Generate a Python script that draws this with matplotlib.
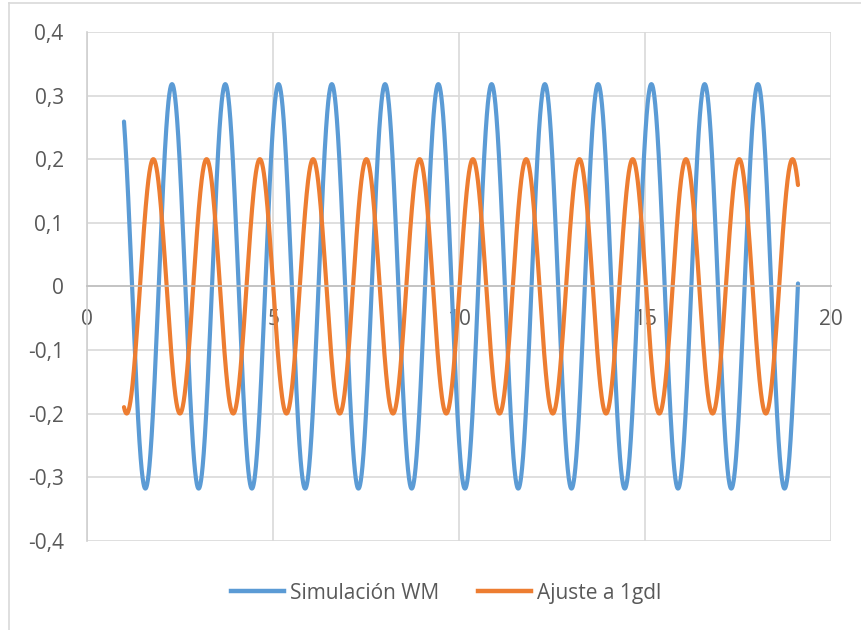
import numpy as np
import matplotlib
matplotlib.use("Agg")
import matplotlib.pyplot as plt
from matplotlib.lines import Line2D

# ---- data (sinusoid parameters) ----
series_names = ["Simulación WM", "Ajuste a 1gdl"]
amplitudes = [0.318, 0.200]          # peak values
periods = [1.433, 1.433]             # time between successive peaks
first_peak_t = [2.279, 1.776]        # time of first peak
t_start = 0.987
t_end = 19.12
x_ticks = [0, 5, 10, 15, 20]
y_ticks = [-0.4, -0.3, -0.2, -0.1, 0, 0.1, 0.2, 0.3, 0.4]
y_tick_labels = ["-0,4", "-0,3", "-0,2", "-0,1", "0", "0,1", "0,2", "0,3", "0,4"]
colors = ["#5B9BD5", "#ED7D31"]

plt.rcParams['font.family'] = ['Open Sans', 'DejaVu Sans']
text_color = "#595959"

fig = plt.figure(figsize=(8.61, 6.30), dpi=100)
ax = fig.add_axes([87.3/861, 1-540.7/630, (830.7-87.3)/861, (540.7-32)/630])

t = np.linspace(t_start, t_end, 4000)
for name, A, P, tp, c in zip(series_names, amplitudes, periods, first_peak_t, colors):
    y = A*np.cos(2*np.pi*(t - tp)/P)
    ax.plot(t, y, color=c, lw=3.0, label=name, solid_capstyle='round')

ax.set_xlim(0, 20)
ax.set_ylim(-0.4, 0.4)
ax.set_xticks(x_ticks)
ax.set_xticklabels([str(v) for v in x_ticks])
ax.set_yticks(y_ticks)
ax.set_yticklabels(y_tick_labels)
ax.grid(True, color="#d9d9d9", lw=1.2)
ax.set_axisbelow(True)

for s in ['top', 'right']:
    ax.spines[s].set_visible(False)
ax.spines['bottom'].set_position(('data', 0))
ax.spines['bottom'].set_color("#bfbfbf")
ax.spines['bottom'].set_linewidth(1.2)
ax.spines['left'].set_color("#d0d0d0")
ax.spines['left'].set_linewidth(1.2)

ax.tick_params(axis='x', length=0, pad=16, labelsize=15, labelcolor=text_color)
ax.tick_params(axis='y', length=0, pad=17, labelsize=15, labelcolor=text_color)

handles = [Line2D([0], [0], color=c, lw=3.2) for c in colors]
leg = fig.legend(handles, series_names, loc='center', bbox_to_anchor=(0.518, 0.0587),
                 ncol=2, frameon=False, fontsize=15, labelcolor=text_color,
                 handlelength=2.55, handletextpad=0.25, columnspacing=1.9)

# outer chart border (cropped at right/bottom)
fig.add_artist(Line2D([9/861, 9/861], [0, 1-3/630], color="#d9d9d9", lw=1.2, transform=fig.transFigure))
fig.add_artist(Line2D([9/861, 1], [1-3/630, 1-3/630], color="#d9d9d9", lw=1.2, transform=fig.transFigure))

fig.savefig("out.png", dpi=100)
